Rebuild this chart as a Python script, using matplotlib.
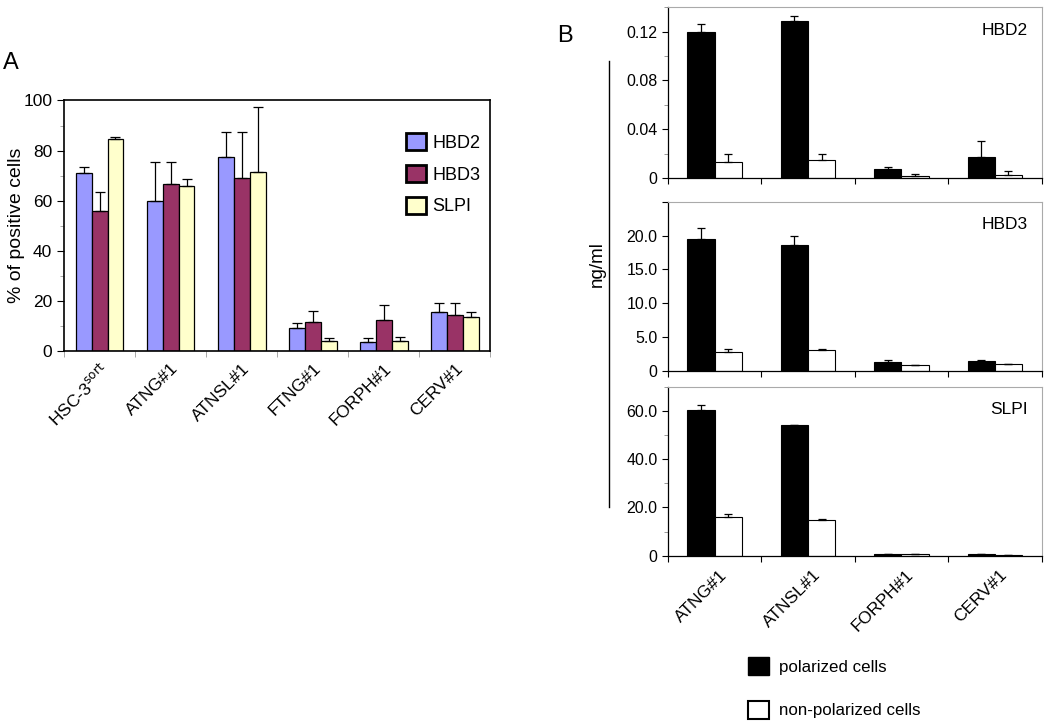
import numpy as np
import matplotlib
matplotlib.use("Agg")
import matplotlib.pyplot as plt
from matplotlib.patches import Patch
from matplotlib.ticker import MultipleLocator, FixedLocator

plt.rcParams['font.family'] = ['Liberation Sans', 'DejaVu Sans']

# panel A data
cells_a = ['HSC-3$^{\\rm sort}$', 'ATNG#1', 'ATNSL#1', 'FTNG#1', 'FORPH#1', 'CERV#1']
hbd2 = [71, 60, 77.5, 9, 3.5, 15.5]
hbd2_err = [2.5, 15.5, 10, 2, 1.5, 3.5]
hbd3 = [56, 66.5, 69, 11.5, 12.5, 14.5]
hbd3_err = [7.5, 9, 18.5, 4.5, 6, 4.5]
slpi = [84.5, 66, 71.5, 4, 4, 13.5]
slpi_err = [1, 2.5, 26, 1, 1.5, 2]
colors_a = ['#9999ff', '#993366', '#ffffcc']

# panel B data
cells_b = ['ATNG#1', 'ATNSL#1', 'FORPH#1', 'CERV#1']
hbd2_pol = [0.120, 0.129, 0.007, 0.017]
hbd2_pol_err = [0.006, 0.004, 0.002, 0.013]
hbd2_non = [0.013, 0.015, 0.0015, 0.0025]
hbd2_non_err = [0.007, 0.005, 0.002, 0.003]
hbd3_pol = [19.5, 18.7, 1.25, 1.45]
hbd3_pol_err = [1.7, 1.3, 0.3, 0.15]
hbd3_non = [2.8, 3.1, 0.9, 1.0]
hbd3_non_err = [0.4, 0.15, 0, 0]
slpi_pol = [60.2, 54.0, 0.8, 0.8]
slpi_pol_err = [2.3, 0.3, 0, 0]
slpi_non = [16.0, 14.8, 0.5, 0.2]
slpi_non_err = [1.3, 0.3, 0, 0]

fig = plt.figure(figsize=(10.5, 7.28), dpi=100)

# ---------- panel A ----------
ax = fig.add_axes([0.061, 0.518, 0.406, 0.344])
x = np.arange(len(cells_a))
w = 0.224
series = [(hbd2, hbd2_err, 'HBD2'), (hbd3, hbd3_err, 'HBD3'), (slpi, slpi_err, 'SLPI')]
for i, (vals, err, name) in enumerate(series):
    ax.bar(x + (i - 1) * w, vals, w, color=colors_a[i], edgecolor='black', linewidth=0.9,
           yerr=[np.zeros(len(err)), err], capsize=3.5,
           error_kw=dict(elinewidth=0.9, capthick=0.9, ecolor='black'), label=name)
ax.set_xlim(-0.5, len(cells_a) - 0.5)
ax.set_ylim(0, 100)
ax.yaxis.set_major_locator(MultipleLocator(20))
ax.yaxis.set_minor_locator(MultipleLocator(10))
ax.set_xticks(x)
ax.set_xticklabels(cells_a, rotation=45, ha='right', rotation_mode='anchor', fontsize=12.5)
ax.xaxis.set_minor_locator(FixedLocator(np.arange(-0.5, len(cells_a), 1)))
ax.tick_params(axis='x', which='major', length=0, pad=7)
ax.tick_params(axis='x', which='minor', length=4, color='#999999')
ax.tick_params(axis='y', which='major', labelsize=12.5, length=5)
ax.tick_params(axis='y', which='minor', length=3, color='#999999')
for s in ax.spines.values():
    s.set_linewidth(1.2)
ax.set_ylabel('% of positive cells', fontsize=14)
ax.yaxis.set_label_coords(-0.092, 0.5)
leg = ax.legend(loc='upper right', bbox_to_anchor=(1.015, 0.935), frameon=False, fontsize=13,
                handlelength=1.1, handleheight=1.1, labelspacing=0.72, handletextpad=0.35)
for h in leg.legend_handles:
    h.set_linewidth(2)
fig.text(0.003, 0.905, 'A', fontsize=17)

# ---------- panel B ----------
panels = [
    ([0.636, 0.7555, 0.356, 0.2345], hbd2_pol, hbd2_pol_err, hbd2_non, hbd2_non_err,
     'HBD2', 0.14, 0.04, 0.02, ['0', '0.04', '0.08', '0.12']),
    ([0.636, 0.4908, 0.356, 0.2317], hbd3_pol, hbd3_pol_err, hbd3_non, hbd3_non_err,
     'HBD3', 25, 5, None, ['0', '5.0', '10.0', '15.0', '20.0', '']),
    ([0.636, 0.2367, 0.356, 0.2321], slpi_pol, slpi_pol_err, slpi_non, slpi_non_err,
     'SLPI', 70, 20, 10, ['0', '20.0', '40.0', '60.0']),
]
xb = np.arange(len(cells_b))
wb = 0.29
axes_b = []
for rect, pol, pol_err, non, non_err, name, top, major, minor, labels in panels:
    bx = fig.add_axes(rect)
    bx.bar(xb - wb / 2, pol, wb, color='black', edgecolor='black', linewidth=0.8,
           yerr=[np.zeros(len(pol_err)), pol_err], capsize=3,
           error_kw=dict(elinewidth=0.9, capthick=0.9, ecolor='black'), label='polarized cells')
    bx.bar(xb + wb / 2, non, wb, color='white', edgecolor='black', linewidth=0.8,
           yerr=[np.zeros(len(non_err)), non_err], capsize=3,
           error_kw=dict(elinewidth=0.9, capthick=0.9, ecolor='black'), label='non-polarized cells')
    bx.set_xlim(-0.5, len(cells_b) - 0.5)
    bx.set_ylim(0, top)
    ticks = np.arange(0, top + 1e-9, major)
    bx.set_yticks(ticks)
    bx.set_yticklabels(labels[:len(ticks)], fontsize=11.5)
    if minor:
        bx.yaxis.set_minor_locator(MultipleLocator(minor))
    bx.tick_params(axis='y', which='major', length=4, width=0.8)
    bx.tick_params(axis='y', which='minor', length=3, width=0.6, color='#888888')
    bx.set_xticks(np.arange(-0.5, len(cells_b), 1))
    bx.set_xticklabels([])
    bx.tick_params(axis='x', length=4, width=0.8)
    bx.spines['top'].set_color('#aaaaaa')
    bx.spines['right'].set_color('#aaaaaa')
    bx.spines['left'].set_linewidth(0.9)
    bx.spines['bottom'].set_linewidth(0.9)
    bx.text(0.963, 0.865, name, transform=bx.transAxes, ha='right', va='center', fontsize=12.5)
    axes_b.append(bx)

bx = axes_b[-1]
for i, lab in enumerate(cells_b):
    bx.text(i + 0.05, -0.07, lab, transform=bx.get_xaxis_transform(), rotation=45,
            ha='right', va='top', rotation_mode='anchor', fontsize=12.5)

fig.text(0.5685, 1 - 264 / 728, 'ng/ml', rotation=90, ha='center', va='center', fontsize=13.5)
fig.add_artist(plt.Line2D([0.58, 0.58], [1 - 60.7 / 728, 1 - 506.7 / 728],
                          transform=fig.transFigure, color='black', linewidth=1))
fig.text(0.531, 0.942, 'B', fontsize=17)

handles = [Patch(facecolor='black', edgecolor='black', label='polarized cells'),
           Patch(facecolor='white', edgecolor='black', linewidth=1.5, label='non-polarized cells')]
fig.legend(handles=handles, loc='upper left', bbox_to_anchor=(0.698, 0.118), frameon=False,
           fontsize=12.2, handlelength=1.25, handleheight=1.25, labelspacing=1.5,
           handletextpad=0.6)

fig.savefig('out.png', dpi=100)
